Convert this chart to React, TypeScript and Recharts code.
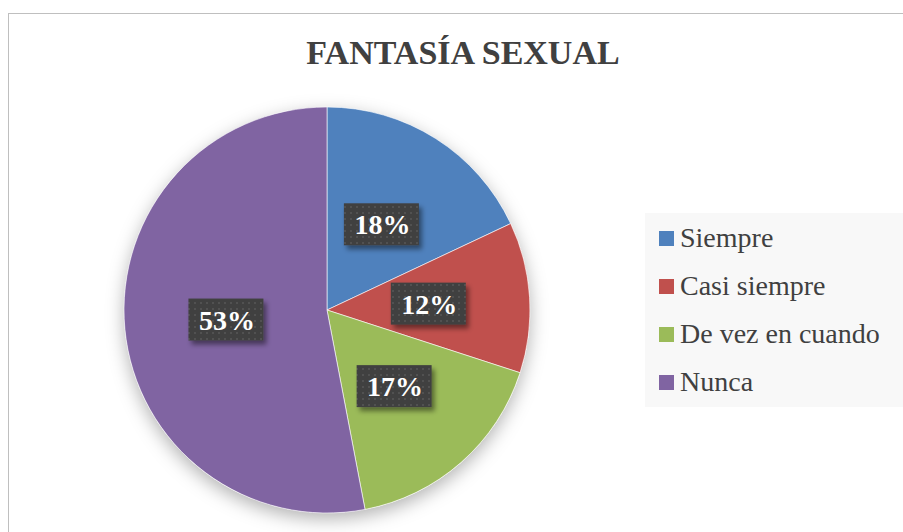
import React from 'react';
import { PieChart, Pie, Cell, Legend } from 'recharts';

const categories = ['Siempre', 'Casi siempre', 'De vez en cuando', 'Nunca'];
const percentages = [18, 12, 17, 53];
const colors = ['#4F81BD', '#C0504D', '#9BBB59', '#8064A2'];
const title = 'FANTASÍA SEXUAL';

const data = categories.map((name, i) => ({ name, value: percentages[i] }));
const bgData = [{ name: 'bg', value: 1 }];

const RAD = Math.PI / 180;
const FONT = "'Times New Roman', Times, Tinos, 'Liberation Serif', 'Noto Serif', 'DejaVu Serif', FreeSerif, Georgia, serif";

const renderLabel = (props: any) => {
  const { cx, cy, midAngle, outerRadius, value } = props;
  const r = outerRadius * 0.5;
  const x = cx + r * Math.cos(-midAngle * RAD);
  const y = cy + r * Math.sin(-midAngle * RAD);
  const w = 75;
  const h = 42;
  return (
    <g>
      <rect x={x - w / 2} y={y - h / 2} width={w} height={h} fill="url(#dotsPattern)" filter="url(#boxShadow)" />
      <text
        x={x + 1}
        y={y + 10}
        textAnchor="middle"
        fill="#ffffff"
        style={{ fontFamily: FONT, fontWeight: 'bold', fontSize: 28 }}
      >
        {`${value}%`}
      </text>
    </g>
  );
};

const renderLegend = (props: any) => {
  const payload = (props.payload || [])
    .filter((p: any) => p.type !== 'none' && categories.includes(p.value))
    .sort((a: any, b: any) => categories.indexOf(a.value) - categories.indexOf(b.value));
  return (
    <div style={{ background: '#F8F8F8', width: 300, height: 194, paddingTop: 1, boxSizing: 'border-box' }}>
      {payload.map((p: any) => (
        <div key={p.value} style={{ height: 48, display: 'flex', alignItems: 'center' }}>
          <div style={{ width: 15, height: 15, background: p.color, marginLeft: 14, marginRight: 6 }} />
          <span style={{ fontFamily: FONT, fontSize: 28, lineHeight: '48px', color: '#404040', whiteSpace: 'nowrap' }}>
            {p.value}
          </span>
        </div>
      ))}
    </div>
  );
};

export default function App() {
  return (
    <div style={{ position: 'absolute', left: 0, top: 0, width: 903, height: 532, overflow: 'hidden', background: '#fff' }}>
      <div
        style={{
          position: 'absolute',
          left: 8,
          top: 13,
          width: 1000,
          height: 1000,
          border: '1px solid #BFBFBF',
          boxSizing: 'border-box',
        }}
      />
      <PieChart
        width={903}
        height={532}
        margin={{ top: 0, right: 0, bottom: 0, left: 0 }}
        style={{ position: 'absolute', left: 0, top: 0 }}
      >
        <defs>
          <pattern id="dotsPattern" width="6" height="6" patternUnits="userSpaceOnUse">
            <rect width="6" height="6" fill="#3F3F3F" />
            <circle cx="3" cy="3" r="1" fill="#575757" />
          </pattern>
          <filter id="boxShadow" x="-30%" y="-30%" width="160%" height="160%">
            <feDropShadow dx="3" dy="4" stdDeviation="2.5" floodColor="#000" floodOpacity="0.45" />
          </filter>
          <filter id="pieShadow" x="-30%" y="-30%" width="160%" height="160%">
            <feDropShadow dx="0" dy="6" stdDeviation="9" floodColor="#000" floodOpacity="0.3" />
          </filter>
        </defs>
        <Pie
          data={bgData}
          dataKey="value"
          cx={327}
          cy={310}
          outerRadius={203}
          startAngle={90}
          endAngle={-270}
          stroke="none"
          legendType="none"
          isAnimationActive={false}
        >
          <Cell fill="#ffffff" filter="url(#pieShadow)" />
        </Pie>
        <Pie
          data={data}
          dataKey="value"
          nameKey="name"
          cx={327}
          cy={310}
          outerRadius={203}
          startAngle={90}
          endAngle={-270}
          stroke="#ffffff"
          strokeWidth={0.6}
          labelLine={false}
          label={renderLabel}
          isAnimationActive={false}
        >
          {data.map((d, i) => (
            <Cell key={d.name} fill={colors[i]} />
          ))}
        </Pie>
        <Legend
          layout="vertical"
          itemSorter={null as any}
          content={renderLegend}
          wrapperStyle={{ position: 'absolute', left: 645, top: 213, width: 300, height: 194 }}
        />
      </PieChart>
      <div
        style={{
          position: 'absolute',
          left: 463,
          top: 36,
          transform: 'translateX(-50%)',
          fontFamily: FONT,
          fontWeight: 'bold',
          fontSize: 34,
          lineHeight: '34px',
          color: '#404040',
          whiteSpace: 'nowrap',
        }}
      >
        {title}
      </div>
    </div>
  );
}
